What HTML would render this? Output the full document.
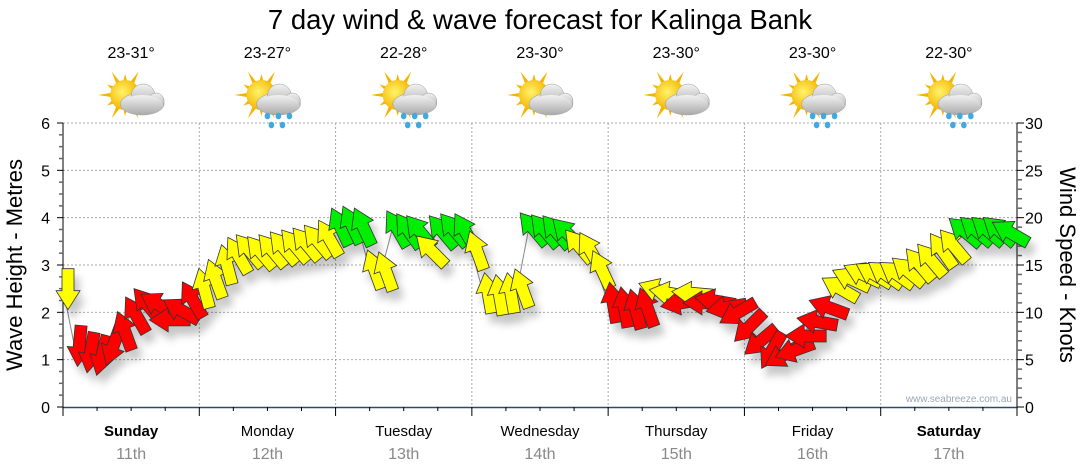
<!DOCTYPE html>
<html><head><meta charset="utf-8">
<style>
html,body{margin:0;padding:0;background:#fff;}
svg{display:block;font-family:"Liberation Sans",sans-serif;}
</style></head>
<body>
<svg id="chart" width="1080" height="475" viewBox="0 0 1080 475" xmlns="http://www.w3.org/2000/svg">
<defs>
  <filter id="sh" x="-50%" y="-50%" width="200%" height="200%">
    <feDropShadow dx="5" dy="9" stdDeviation="4" flood-color="#000" flood-opacity="0.22"/>
  </filter>
  <radialGradient id="sunG" cx="0.4" cy="0.4" r="0.6">
    <stop offset="0" stop-color="#fff36a"/><stop offset="1" stop-color="#f5b400"/>
  </radialGradient>
  <linearGradient id="cloudG" x1="0" y1="0" x2="0" y2="1">
    <stop offset="0" stop-color="#f2f2f2"/><stop offset="1" stop-color="#a9a9a9"/>
  </linearGradient>
</defs>
<text x="540" y="29" text-anchor="middle" font-size="27.5" fill="#000">7 day wind &amp; wave forecast for Kalinga Bank</text>
<text transform="translate(22,265) rotate(-90)" text-anchor="middle" font-size="22" fill="#000">Wave Height - Metres</text>
<text transform="translate(1060,265) rotate(90)" text-anchor="middle" font-size="22" fill="#000">Wind Speed - Knots</text>
<text x="1012" y="402" text-anchor="end" font-size="10" fill="#9aa8b8">www.seabreeze.com.au</text>
<g id="grid"></g>
<g id="axes"></g>
<g id="icons"></g>
<g id="series"></g>
</svg>
<script>
const days = ["Sunday","Monday","Tuesday","Wednesday","Thursday","Friday","Saturday"];
const dates = ["11th","12th","13th","14th","15th","16th","17th"];
const boldDays = [true,false,false,false,false,false,true];
const temps = ["23-31°","23-27°","22-28°","23-30°","23-30°","23-30°","22-30°"];
const rainy = [false,true,true,false,false,true,true];
const leftTicks = [0,1,2,3,4,5,6];
const rightTicks = [0,5,10,15,20,25,30];
// wind speed (knots), 2-hourly
const windSpeed = [12.5,6.5,5.8,5.5,6.5,8,9.7,10.8,10.8,9.2,10.2,11.3,
 12.5,13.5,15,16,16.5,16.3,16.5,16.8,17,17.2,17.5,17.8,
 19,19.2,19,14.5,14.3,18.8,18.6,18.5,16.5,18.5,18.7,18.5,
 16.5,12,11.8,12,12.5,18.8,18.6,18.5,18.3,17,16.5,14.5,
 11,10.5,10.3,10.5,12.3,12,11,12,11,11.2,10.5,10,
 8.5,7,6,5.5,6,7.5,9,10.5,12.5,13.5,14,14,
 14,14,14.3,15,15.5,16.5,17,18.5,18.6,18.6,18.6,18.4];
// direction arrow points to (deg, 0 = up, clockwise)
const windDir = [180,185,190,195,200,340,330,320,300,270,300,330,
 345,340,345,330,320,320,320,320,320,320,320,330,
 335,335,335,340,340,330,325,320,315,320,320,330,
 340,350,350,350,340,320,320,320,315,320,330,335,
 350,350,345,340,290,280,260,275,270,280,260,240,
 225,230,210,240,250,270,280,290,300,295,295,300,
 305,305,310,320,320,325,320,310,310,310,310,300];

const NS="http://www.w3.org/2000/svg";
const X0=63, X1=1017, Y0=407, Y1=123;
const dayW=(X1-X0)/7;
const xH=h=>X0+h*dayW/24;
const yM=m=>Y0-m*(Y0-Y1)/6;
const yK=k=>Y0-k*(Y0-Y1)/30;
function mk(tag,attrs,parent){const e=document.createElementNS(NS,tag);for(const k in attrs)e.setAttribute(k,attrs[k]);parent.appendChild(e);return e;}
const grid=document.getElementById('grid'),axes=document.getElementById('axes'),icons=document.getElementById('icons'),series=document.getElementById('series');

leftTicks.forEach(v=>{ if(v===0) return;
  const l=mk('line',{x1:X0,x2:X1,y1:yM(v),y2:yM(v),stroke:'#aaa','stroke-dasharray':'2,2'},grid);
  
  
});
for(let d=1;d<7;d++){
  const l=mk('line',{x1:X0+d*dayW,x2:X0+d*dayW,y1:Y1,y2:Y0,stroke:'#aaa','stroke-dasharray':'2,2'},grid);
  
  
}
mk('line',{x1:X0,x2:X0,y1:Y1,y2:Y0,stroke:'#000'},axes);
for(let i=0;i<=24;i++){const y=yM(i/4);mk('line',{x1:X0-(i%4?4:6),x2:X0,y1:y,y2:y,stroke:i%4?'#666':'#000','stroke-width':i%4?1.5:1},axes);}
leftTicks.forEach(v=>{
  const t=mk('text',{x:50,y:yM(v)+6,'text-anchor':'end','font-size':16,fill:'#000'},axes);
  t.textContent=v;
  
  
});
mk('line',{x1:X1,x2:X1,y1:Y1,y2:Y0,stroke:'#000'},axes);
for(let i=0;i<=30;i++){const y=yK(i);mk('line',{x1:X1,x2:X1+(i%5?5:7),y1:y,y2:y,stroke:i%5?'#666':'#000','stroke-width':i%5?1.5:1},axes);}
rightTicks.forEach(v=>{
  const t=mk('text',{x:1025,y:yK(v)+6,'text-anchor':'start','font-size':16,fill:'#000'},axes);
  t.textContent=v;
  
  
});
mk('line',{x1:X0,x2:X1,y1:Y0+0.5,y2:Y0+0.5,stroke:'#2b4a6b','stroke-width':1.5},axes);
for(let i=0;i<=28;i++){const x=X0+i*dayW/4;mk('line',{x1:x,x2:x,y1:Y0,y2:Y0+(i%4?4:9),stroke:'#000'},axes);}
days.forEach((d,i)=>{
  const cx=X0+(i+0.5)*dayW;
  const t=mk('text',{x:cx,y:436,'text-anchor':'middle','font-size':15,fill:'#000','font-weight':boldDays[i]?'bold':'normal'},axes);
  t.textContent=d;
  
  
  const t2=mk('text',{x:cx,y:459,'text-anchor':'middle','font-size':16,fill:'#888'},axes);
  t2.textContent=dates[i];
  
  
  const t3=mk('text',{x:cx,y:58,'text-anchor':'middle','font-size':16,fill:'#000'},icons);
  t3.textContent=temps[i];
  
  
  const g=mk('g',{transform:`translate(${cx},0)`},icons);
  
  
  const sx=-6, sy=95;
  for(let r=0;r<12;r++){const a=r*30*Math.PI/180,len=r%2?21:27;
    const p=[[sx+Math.cos(a)*len,sy+Math.sin(a)*len],[sx+Math.cos(a+0.17)*13,sy+Math.sin(a+0.17)*13],[sx+Math.cos(a-0.17)*13,sy+Math.sin(a-0.17)*13]];
    mk('polygon',{points:p.map(q=>q.join(',')).join(' '),fill:'#f5b400'},g);}
  mk('circle',{cx:sx,cy:sy,r:15,fill:'url(#sunG)'},g);
  const cg=mk('g',{fill:'url(#cloudG)',stroke:'#999','stroke-width':0.5},g);
  mk('ellipse',{cx:11,cy:104,rx:22,ry:11},cg);
  mk('circle',{cx:12,cy:96,r:12},cg);
  mk('circle',{cx:25,cy:101,r:8},cg);
  mk('ellipse',{cx:11,cy:105,rx:21,ry:10,stroke:'none'},cg);
  if(rainy[i]){[[0,116],[11,116],[22,116],[4,125],[15,125]].forEach(p=>mk('ellipse',{cx:p[0],cy:p[1],rx:2.8,ry:3.3,fill:'#3fa9e0'},g));}
});
let pts=windSpeed.map((k,i)=>xH(i*2)+','+yK(k)).join(' ');
const pl=mk('polyline',{points:pts,fill:'none',stroke:'#888','stroke-width':1},series);


const arrowPts="0,-21 12,-2 6,-2 6,20 -6,20 -6,-2 -12,-2";
const ag=mk('g',{filter:'url(#sh)'},series);
windSpeed.forEach((k,i)=>{
  const col=k>=18?'#00ee00':(k>=11.8?'#ffff00':'#ff0000');
  const a=mk('polygon',{points:arrowPts,fill:col,stroke:'#333','stroke-width':0.8,transform:`translate(${xH(i*2)+5},${yK(k)}) rotate(${windDir[i]})`},ag);
  
  
});
</script>
</body></html>
